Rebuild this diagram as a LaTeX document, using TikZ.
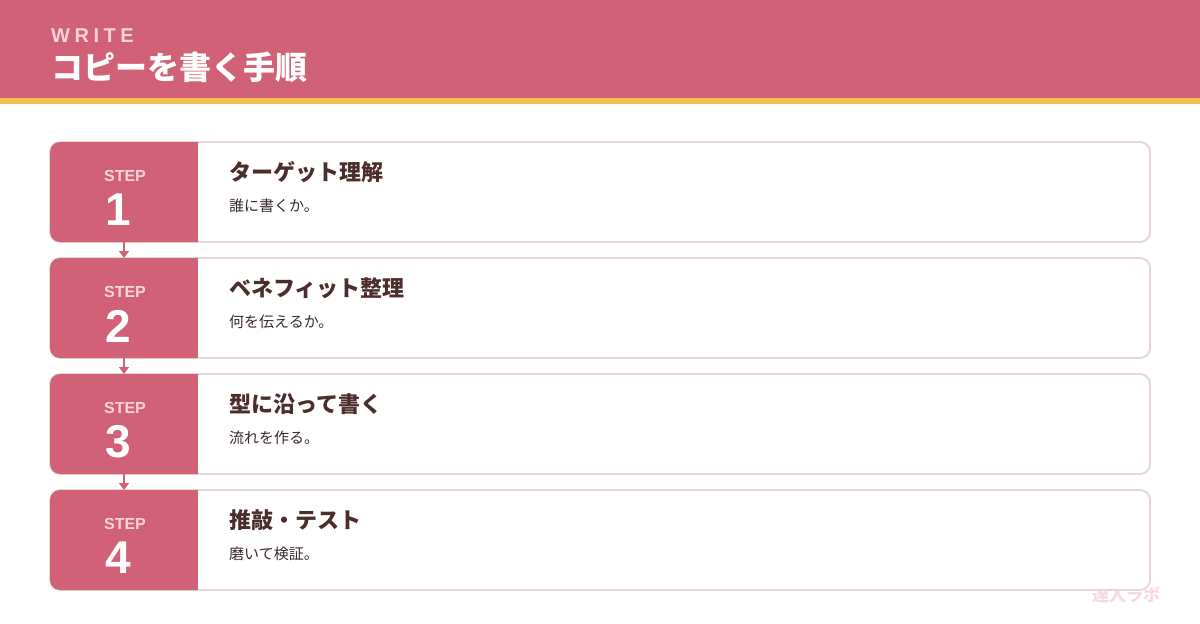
\documentclass[tikz,border=0pt]{standalone}
\usepackage{fontspec}
\setmainfont{Liberation Sans}
\newfontfamily\jp{Noto Sans CJK JP}
\newfontfamily\lat{Liberation Sans}
\definecolor{rose}{HTML}{D06176}
\definecolor{gold}{HTML}{F2C14E}
\definecolor{brownt}{HTML}{4B2E2B}
\definecolor{bodyt}{HTML}{3A2A2A}
\definecolor{lpink}{HTML}{F9D3DB}
\definecolor{cardline}{HTML}{E6D6D6}
\definecolor{wmark}{HTML}{F7D9E0}
\tikzset{
  card/.style={draw=cardline, line width=1.6pt, rounded corners=10pt, fill=white},
  steplbl/.style={font=\lat\bfseries\fontsize{16}{16}\selectfont, text=lpink},
  stepnum/.style={font=\lat\bfseries\fontsize{46}{46}\selectfont, text=white},
  ttl/.style={font=\jp\bfseries\fontsize{22}{22}\selectfont, text=brownt, anchor=west},
  sub/.style={font=\jp\fontsize{15}{15}\selectfont, text=bodyt, anchor=west},
  flow/.style={draw=rose, line width=1.6pt, -{Triangle[length=7pt,width=10pt]}}
}
\usetikzlibrary{arrows.meta}
\begin{document}
\begin{tikzpicture}[x=1pt,y=-1pt]
\useasboundingbox (0,0) rectangle (1200,624);
\fill[white] (0,0) rectangle (1200,624);
% header
\fill[rose] (0,0) rectangle (1200,98);
\fill[gold] (0,98) rectangle (1200,104);
\node[anchor=base west, inner sep=0, text=lpink, font=\lat\bfseries\fontsize{20}{20}\selectfont] (kick) at (51,42) {W\hspace{4.5pt}R\hspace{4.5pt}I\hspace{4.5pt}T\hspace{4.5pt}E};
\node[anchor=base west, inner sep=0, text=white, font=\jp\bfseries\fontsize{32}{32}\selectfont] (head) at (51,79) {コピーを書く手順};
% watermark
\node[inner sep=0, text=wmark, font=\jp\bfseries\fontsize{17}{17}\selectfont] (wm) at (1126,595) {達人ラボ};
% steps
\foreach \i/\t/\s in {1/ターゲット理解/誰に書くか。, 2/ベネフィット整理/何を伝えるか。, 3/型に沿って書く/流れを作る。, 4/推敲・テスト/磨いて検証。}{
  \pgfmathsetmacro{\yt}{142+(\i-1)*116}
  \pgfmathsetmacro{\yb}{\yt+100}
  \draw[card] (50,\yt) rectangle (1150,\yb);
  \begin{scope}
    \clip[rounded corners=10pt] (50,\yt) rectangle (400,\yb);
    \fill[rose] (49,\yt-1) rectangle (198,\yb+1);
  \end{scope}
  \draw[cardline, line width=1.6pt, rounded corners=10pt] (198,\yt) -- (1150,\yt) -- (1150,\yb) -- (198,\yb);
  \node[steplbl, inner sep=0] (sl\i) at (125,\yt+34) {STEP};
  \node[stepnum, inner sep=0] (sn\i) at (118,\yt+68) {\i};
  \node[ttl, inner sep=0] (t\i) at (229,\yt+30) {\t};
  \node[sub, inner sep=0] (s\i) at (229,\yt+64) {\s};
  \coordinate (bot\i) at (124,\yb);
  \coordinate (top\i) at (124,\yt);
}
\draw[flow] (bot1) -- (top2);
\draw[flow] (bot2) -- (top3);
\draw[flow] (bot3) -- (top4);
\end{tikzpicture}
\end{document}
